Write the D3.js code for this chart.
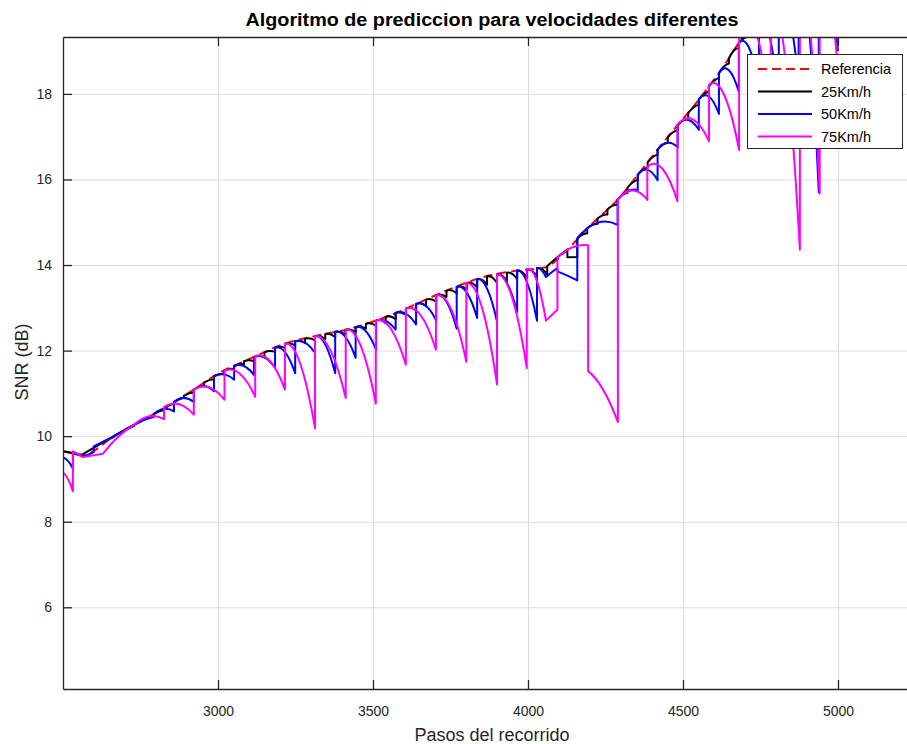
<!DOCTYPE html>
<html><head><meta charset="utf-8">
<script src="https://cdn.jsdelivr.net/npm/d3@7"></script>
<style>
body{margin:0;background:#fff;}
svg{display:block;font-family:"Liberation Sans",Arial,Helvetica,sans-serif;}
</style>
</head><body>
<svg id="chart" width="907" height="744"></svg>
<script>
// ---------- data ----------
const titleText = "Algoritmo de prediccion para velocidades diferentes";
const xLabel = "Pasos del recorrido";
const yLabel = "SNR (dB)";
const xTicks = [3000, 3500, 4000, 4500, 5000];
const yTicks = [6, 8, 10, 12, 14, 16, 18];
const seriesNames = ["Referencia", "25Km/h", "50Km/h", "75Km/h"];

// reference curve (step, SNR)
const refX = [2500,2532,2567,2664,2761,2826,2922,2997,3084,3139,3210,3319,3426,3500,3588,3642,3750,3856,3965,4056,4127,4192,4289,4363,4417,4470,4525,4579,4631,4675,4750,4850,5000];
const refY = [9.65,9.60,9.57,10.00,10.39,10.65,11.09,11.45,11.75,11.93,12.15,12.35,12.51,12.68,12.92,13.10,13.44,13.72,13.87,13.95,14.36,14.86,15.53,16.19,16.69,17.16,17.63,18.13,18.64,19.14,19.8,20.6,21.6];

// predicted series: each segment [stepStart, stepEnd, valueStart, valueMiddle, valueEnd]
const teeth25 = [
[2500,2532,9.65,9.63,9.60],[2532,2564,9.60,9.565,9.53],[2564,2664,9.58,9.79,10.00],[2664,2761,10.00,10.20,10.39],
[2761,2793,10.39,10.445,10.48],[2793,2825,10.52,10.575,10.61],[2825,2858,10.65,10.715,10.76],[2858,2890,10.80,10.86,10.90],
[2890,2922,10.94,11.00,11.02],[2922,2955,11.09,11.15,11.18],[2955,2987,11.25,11.31,11.33],[2987,3020,11.40,11.45,11.46],
[3020,3052,11.53,11.57,11.57],[3052,3084,11.64,11.68,11.68],[3084,3116,11.75,11.775,11.75],[3116,3150,11.85,11.88,11.86],
[3150,3184,11.96,11.99,11.97],[3184,3216,12.07,12.09,12.06],[3216,3249,12.16,12.165,12.12],[3249,3281,12.22,12.225,12.18],
[3281,3313,12.28,12.285,12.24],[3313,3346,12.34,12.335,12.27],[3346,3378,12.39,12.385,12.32],[3378,3411,12.44,12.435,12.37],
[3411,3444,12.49,12.49,12.43],[3444,3477,12.55,12.56,12.51],[3477,3510,12.63,12.635,12.58],[3510,3541,12.70,12.71,12.64],
[3541,3573,12.79,12.80,12.73],[3573,3606,12.88,12.89,12.83],[3606,3639,12.98,13.00,12.94],[3639,3671,13.09,13.10,13.04],
[3671,3704,13.19,13.20,13.14],[3704,3737,13.29,13.31,13.25],[3737,3770,13.40,13.41,13.34],[3770,3803,13.49,13.50,13.43],
[3803,3836,13.58,13.575,13.47],[3836,3868,13.67,13.655,13.54],[3868,3900,13.74,13.71,13.58],[3900,3932,13.78,13.75,13.62],
[3932,3965,13.82,13.795,13.67],[3965,3997,13.87,13.835,13.70],[3997,4029,13.90,13.865,13.73],[4029,4062,13.93,13.905,13.78],
[4062,4127,13.98,14.18,14.36],[4127,4159,14.18,14.185,14.19],
[4159,4191,14.61,14.705,14.74],[4191,4224,14.86,14.94,14.96],[4224,4256,15.08,15.16,15.18],[4256,4289,15.30,15.385,15.41],
[4289,4321,15.53,15.64,15.69],[4321,4354,15.81,15.93,15.99],[4354,4386,16.11,16.225,16.28],[4386,4418,16.40,16.52,16.58],
[4418,4451,16.70,16.815,16.87],[4451,4483,16.99,17.10,17.15],[4483,4517,17.27,17.385,17.44],[4517,4551,17.56,17.685,17.75],
[4551,4583,17.87,17.99,18.05],[4583,4616,18.17,18.30,18.37],[4616,4648,18.49,18.64,18.71],[4648,4680,18.83,19.01,19.07],
[4680,4712,19.19,19.30,19.35],[4712,4745,19.47,19.585,19.64],[4745,4777,19.76,19.85,19.88],[4777,4809,20.0,20.1,20.15],
[4809,5000,20.27,20.9,21.5]
];
const teeth50 = [
[2500,2532,9.50,9.42,9.24],[2532,2564,9.64,9.58,9.52],[2564,2599,9.52,9.57,9.62],[2599,2664,9.76,9.88,9.98],
[2664,2729,10.00,10.12,10.24],[2729,2793,10.26,10.38,10.45],[2793,2858,10.52,10.64,10.58],[2858,2922,10.80,10.89,10.80],
[2922,2987,11.09,11.17,11.05],[2987,3052,11.40,11.44,11.32],[3052,3116,11.64,11.64,11.43],[3116,3184,11.85,11.84,11.60],
[3184,3249,12.07,11.96,11.47],[3249,3313,12.22,12.18,11.95],[3313,3378,12.34,12.15,11.47],[3378,3444,12.44,12.315,11.83],
[3444,3510,12.55,12.455,12.02],[3510,3573,12.70,12.69,12.49],[3573,3639,12.88,12.865,12.61],[3639,3704,13.09,13.04,12.70],
[3704,3770,13.29,13.145,12.51],[3770,3836,13.49,13.35,12.76],[3836,3900,13.67,13.45,12.68],[3900,3965,13.78,13.58,12.90],
[3965,4029,13.87,13.59,12.70],[4029,4058,13.93,13.88,13.72],[4058,4095,13.72,13.83,13.93],[4095,4159,13.85,13.75,13.64],
[4159,4289,14.63,14.99,14.94],[4289,4354,15.53,15.73,15.75],[4354,4418,16.11,16.225,15.98],[4418,4483,16.70,16.855,16.75],
[4483,4551,17.27,17.39,17.16],[4551,4616,17.87,17.94,17.53],[4616,4680,18.49,18.555,18.05],[4680,4745,19.19,19.085,18.2],
[4745,4809,19.76,19.42,17.9],[4809,4873,20.27,19.9,18.3],[4873,4938,20.75,19.6,15.7],[4938,5000,21.2,20.75,19.0]
];
const teeth75 = [
[2500,2532,9.15,9.00,8.71],[2532,2564,9.64,9.58,9.51],[2564,2629,9.51,9.55,9.59],[2629,2726,9.59,9.98,10.25],
[2726,2826,10.25,10.46,10.40],[2826,2922,10.68,10.75,10.50],[2922,3021,11.09,11.14,10.85],[3021,3120,11.53,11.46,10.92],
[3120,3216,11.87,11.75,11.09],[3216,3313,12.16,11.71,10.18],[3313,3412,12.34,12.015,10.89],[3412,3509,12.49,12.11,10.76],
[3509,3606,12.70,12.51,11.67],[3606,3703,12.98,12.82,12.02],[3703,3801,13.29,12.97,11.74],[3801,3900,13.57,13.03,11.21],
[3900,3996,13.78,13.26,11.59],[3996,4058,13.90,13.66,12.70],[4058,4095,12.70,12.83,12.96],[4095,4194,14.17,14.42,14.46],
[4194,4290,11.52,11.09,10.33],[4290,4385,15.53,15.74,15.52],[4385,4482,16.30,16.25,15.49],[4482,4584,17.28,17.40,16.89],
[4584,4681,18.21,17.98,16.69],[4681,4783,19.28,19.5,17.5],[4783,4877,20.06,18.82,14.36],[4877,4941,20.78,19.6,15.67],
[4941,5000,21.2,20.6,18.5]
];
const seriesColors = ["#ff0000", "#000000", "#0000ff", "#ff00ff"];

// ---------- layout ----------
const W = 907, H = 744;
const m = {left: 63, top: 37, bottom: 689, right: 915.5};
const svg = d3.select("#chart");
const x = d3.scaleLinear().domain([2500, 5250]).range([m.left, m.right]);
const y = d3.scaleLinear().domain([4.09, 19.33]).range([m.bottom, m.top]);

// background
svg.append("rect").attr("width", W).attr("height", H).attr("fill", "#fff");

// grid
const gridG = svg.append("g");
gridG.append("g").attr("transform", `translate(0,${m.bottom})`)
  .call(d3.axisBottom(x).tickValues(xTicks).tickSize(-(m.bottom - m.top)).tickFormat(""))
  .call(g => g.select(".domain").remove())
  .call(g => g.selectAll("line").attr("stroke", "#dcdcdc").attr("stroke-width", 1));
gridG.append("g").attr("transform", `translate(${m.left},0)`)
  .call(d3.axisLeft(y).tickValues(yTicks).tickSize(-(m.right - m.left)).tickFormat(""))
  .call(g => g.select(".domain").remove())
  .call(g => g.selectAll("line").attr("stroke", "#dcdcdc").attr("stroke-width", 1));

// clip
svg.append("clipPath").attr("id", "clip").append("rect")
  .attr("x", m.left).attr("y", m.top).attr("width", m.right - m.left).attr("height", m.bottom - m.top);
const plot = svg.append("g").attr("clip-path", "url(#clip)");

// reference line
const refPts = refX.map((v, i) => [v, refY[i]]);
plot.append("path").datum(refPts)
  .attr("d", d3.line().x(d => x(d[0])).y(d => y(d[1])).curve(d3.curveMonotoneX))
  .attr("fill", "none").attr("stroke", seriesColors[0]).attr("stroke-width", 2)
  .attr("stroke-dasharray", "9,5");

function teethPath(teeth) {
  const p = d3.path();
  teeth.forEach((t, i) => {
    const X0 = x(t[0]), X1 = x(t[1]);
    const Yt = y(t[2]), Ym = y(t[3]), Yb = y(t[4]);
    if (i === 0) p.moveTo(X0, Yt); else p.lineTo(X0, Yt);
    p.quadraticCurveTo((X0 + X1) / 2, 2 * Ym - (Yt + Yb) / 2, X1, Yb);
  });
  return p.toString();
}
[teeth25, teeth50, teeth75].forEach((s, i) => {
  plot.append("path").attr("d", teethPath(s))
    .attr("fill", "none").attr("stroke", seriesColors[i + 1])
    .attr("stroke-width", 2).attr("stroke-linejoin", "round");
});

// axes
const axisColor = "#262626";
const ax = svg.append("g").attr("transform", `translate(0,${m.bottom})`)
  .call(d3.axisBottom(x).tickValues(xTicks).tickSizeInner(-9).tickSizeOuter(0).tickPadding(17).tickFormat(d3.format("d")));
const axT = svg.append("g").attr("transform", `translate(0,${m.top})`)
  .call(d3.axisTop(x).tickValues(xTicks).tickSizeInner(-9).tickSizeOuter(0).tickFormat(""));
const ay = svg.append("g").attr("transform", `translate(${m.left},0)`)
  .call(d3.axisLeft(y).tickValues(yTicks).tickSizeInner(-9).tickSizeOuter(0).tickPadding(11));
[ax, axT, ay].forEach(g => {
  g.select(".domain").attr("stroke", axisColor).attr("stroke-width", 1.3);
  g.selectAll(".tick line").attr("stroke", axisColor).attr("stroke-width", 1.3);
  g.selectAll(".tick text").attr("fill", "#262626").attr("font-size", 14)
    .attr("font-family", '"Liberation Sans",Arial,sans-serif');
});

// title and labels
svg.append("text").attr("x", 492).attr("y", 26).attr("text-anchor", "middle")
  .attr("font-weight", "bold").attr("font-size", 18).attr("fill", "#000")
  .attr("textLength", 493).attr("lengthAdjust", "spacingAndGlyphs").text(titleText);
svg.append("text").attr("x", 492).attr("y", 741).attr("text-anchor", "middle")
  .attr("font-size", 18).attr("fill", "#262626").text(xLabel);
svg.append("text").attr("transform", "translate(28,362) rotate(-90)").attr("text-anchor", "middle")
  .attr("font-size", 18).attr("fill", "#262626").text(yLabel);

// legend
const lg = svg.append("g");
lg.append("rect").attr("x", 747.5).attr("y", 54.5).attr("width", 155).attr("height", 94)
  .attr("fill", "#fff").attr("stroke", "#262626").attr("stroke-width", 1);
const legY = [69, 91.5, 114, 136.5];
seriesNames.forEach((n, i) => {
  lg.append("line").attr("x1", 758).attr("x2", 812).attr("y1", legY[i]).attr("y2", legY[i])
    .attr("stroke", seriesColors[i]).attr("stroke-width", 2)
    .attr("stroke-dasharray", i === 0 ? "9,5" : null);
  lg.append("text").attr("x", 821).attr("y", legY[i] + 5).attr("font-size", 14.5)
    .attr("fill", "#000").text(n);
});
</script>
</body></html>
